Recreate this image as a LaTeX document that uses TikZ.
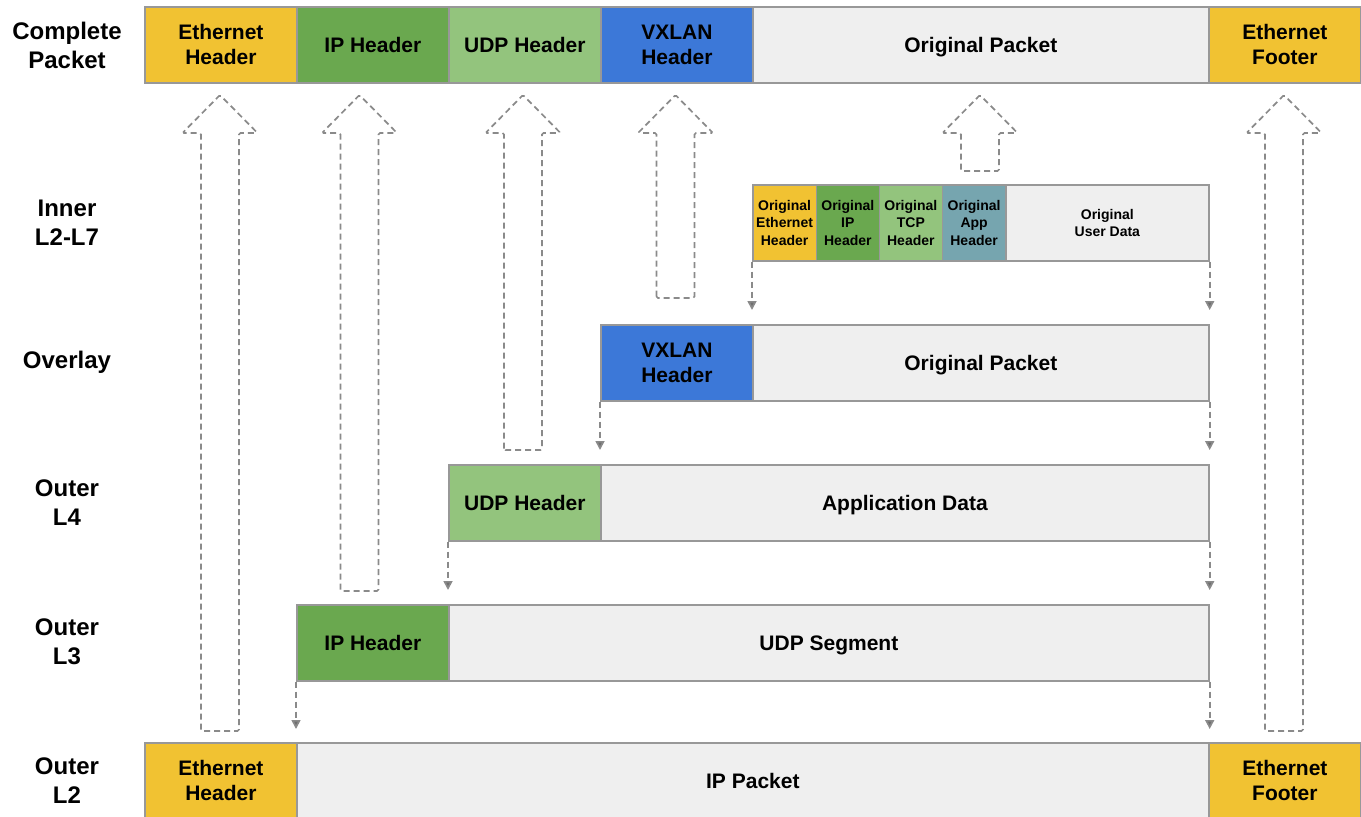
\documentclass[tikz,border=0pt]{standalone}
\usepackage{fontspec}
\setmainfont{Liberation Sans}
\usetikzlibrary{arrows.meta}
\definecolor{cyel}{HTML}{F1C232}
\definecolor{cgrn}{HTML}{6AA84F}
\definecolor{clgrn}{HTML}{93C47D}
\definecolor{cblu}{HTML}{3C78D8}
\definecolor{cgry}{HTML}{EFEFEF}
\definecolor{cteal}{HTML}{76A5AF}
\definecolor{cline}{HTML}{989898}
\definecolor{cdash}{HTML}{8A8A8A}
\definecolor{ctip}{HTML}{6E6E6E}
\newcommand\bigarr[2]{% center x, bottom y
  \draw[barr] (#1-19,#2) -- (#1-19,133) -- (#1-37.5,133) -- (#1,95) -- (#1+37.5,133) -- (#1+19,133) -- (#1+19,#2) -- cycle;}
\newcommand\nodepth[1]{\raisebox{0pt}[\height][0pt]{#1}}
\begin{document}
\begin{tikzpicture}[x=1pt,y=-1pt,
  pbox/.style={draw=cline, line width=1.7pt, anchor=north west, minimum height=76pt, inner sep=0pt, align=center, font=\fontsize{21}{25}\selectfont\bfseries},
  sbox/.style={pbox, font=\fontsize{14}{17.5}\selectfont\bfseries},
  rowlab/.style={align=center, font=\fontsize{24}{29}\selectfont\bfseries},
  darr/.style={draw=cdash, line width=1.7pt, dash pattern=on 6pt off 4pt, -{Triangle[width=9pt,length=9pt,fill=ctip]}},
  barr/.style={draw=cdash, line width=1.7pt, dash pattern=on 6pt off 4pt, rounded corners=1.5pt}]
\useasboundingbox (0,0) rectangle (1361,817);

% block arrows (behind)
\bigarr{220}{731}
\bigarr{359.5}{591}
\bigarr{523}{450}
\bigarr{675.5}{298}
\bigarr{980}{171}
\bigarr{1284}{731}

% row labels
\node[rowlab] (lcp) at (67,45) {Complete\\Packet};
\node[rowlab] (lin) at (67,223) {Inner\\L2-L7};
\node[rowlab] (lov) at (67,362) {Overlay};
\node[rowlab] (l4) at (67,503) {Outer\\L4};
\node[rowlab] (l3) at (67,642) {Outer\\L3};
\node[rowlab] (l2) at (67,781) {Outer\\L2};

% complete packet
\node[pbox, fill=cyel, minimum width=152pt] (ceh) at (144,6) {Ethernet\\Header};
\node[pbox, fill=cgrn, minimum width=152pt] (cip) at (296,6) {IP Header};
\node[pbox, fill=clgrn, minimum width=152pt] (cudp) at (448,6) {UDP Header};
\node[pbox, fill=cblu, minimum width=152pt] (cvx) at (600,6) {VXLAN\\Header};
\node[pbox, fill=cgry, minimum width=456pt] (cop) at (752,6) {\nodepth{Original Packet}};
\node[pbox, fill=cyel, minimum width=152pt] (cef) at (1208,6) {Ethernet\\Footer};

% inner L2-L7
\node[sbox, fill=cyel, minimum width=63.5pt] (ieth) at (752,184) {Original\\Ethernet\\Header};
\node[sbox, fill=cgrn, minimum width=63pt] (iip) at (815.5,184) {Original\\IP\\Header};
\node[sbox, fill=clgrn, minimum width=63pt] (itcp) at (878.5,184) {Original\\TCP\\Header};
\node[sbox, fill=cteal, minimum width=63.5pt] (iapp) at (941.5,184) {Original\\App\\Header};
\node[sbox, fill=cgry, minimum width=203pt] (iud) at (1005,184) {Original\\User Data};

% overlay
\node[pbox, fill=cblu, minimum width=152pt] (ovx) at (600,324) {VXLAN\\Header};
\node[pbox, fill=cgry, minimum width=456pt] (oop) at (752,324) {\nodepth{Original Packet}};

% outer L4
\node[pbox, fill=clgrn, minimum width=152pt] (u4h) at (448,464) {UDP Header};
\node[pbox, fill=cgry, minimum width=608pt] (u4d) at (600,464) {\nodepth{Application Data}};

% outer L3
\node[pbox, fill=cgrn, minimum width=152pt] (i3h) at (296,604) {IP Header};
\node[pbox, fill=cgry, minimum width=760pt] (i3d) at (448,604) {\nodepth{UDP Segment}};

% outer L2
\node[pbox, fill=cyel, minimum width=152pt] (e2h) at (144,742) {Ethernet\\Header};
\node[pbox, fill=cgry, minimum width=912pt] (e2d) at (296,742) {IP Packet};
\node[pbox, fill=cyel, minimum width=152pt] (e2f) at (1208,742) {Ethernet\\Footer};

% small dashed arrows
\draw[darr] (ieth.south west) -- ([yshift=14pt]ieth.south west |- ovx.north);
\draw[darr] (iud.south east) -- ([yshift=14pt]iud.south east |- oop.north);
\draw[darr] (ovx.south west) -- ([yshift=14pt]ovx.south west |- u4h.north);
\draw[darr] (oop.south east) -- ([yshift=14pt]oop.south east |- u4d.north);
\draw[darr] (u4h.south west) -- ([yshift=14pt]u4h.south west |- i3h.north);
\draw[darr] (u4d.south east) -- ([yshift=14pt]u4d.south east |- i3d.north);
\draw[darr] (i3h.south west) -- ([yshift=13pt]i3h.south west |- e2d.north);
\draw[darr] (i3d.south east) -- ([yshift=13pt]i3d.south east |- e2d.north);
\end{tikzpicture}
\end{document}
